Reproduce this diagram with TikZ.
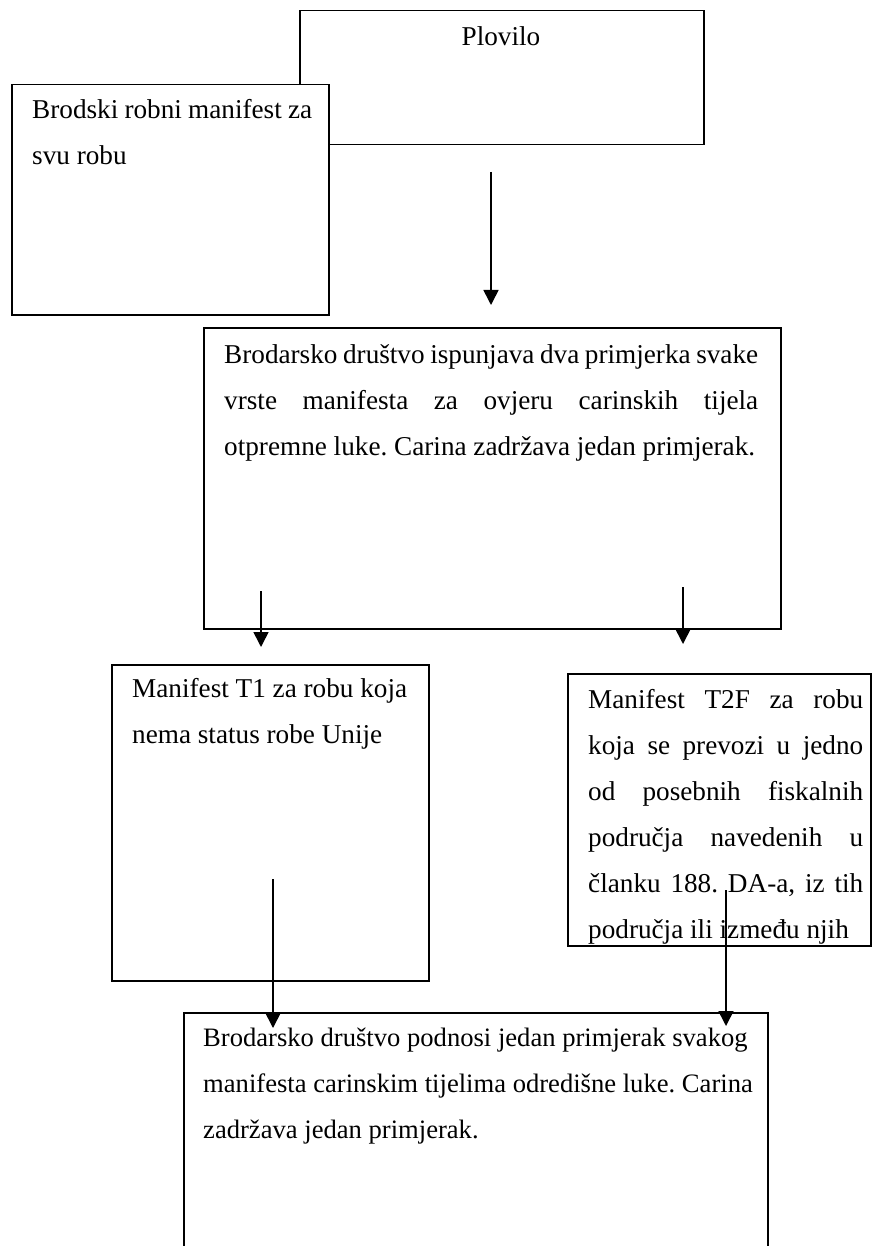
\documentclass[tikz,border=0pt]{standalone}
\usepackage{fontspec}
\setmainfont{Liberation Serif}
\usetikzlibrary{arrows.meta}
\frenchspacing
\tikzset{
  box/.style={draw=black, line width=1.5pt, fill=white, inner sep=0pt, anchor=north west},
  txt/.style={inner sep=0pt, anchor=base west, font=\fontsize{27.2}{46}\selectfont\frenchspacing},
  arr/.style={line width=1.6pt, -{Triangle[width=15pt,length=15pt]}}
}
\newcommand{\jl}[1]{\makebox[\linewidth][s]{#1}}
\begin{document}
\begin{tikzpicture}[x=1pt,y=-1pt]
\useasboundingbox (0,0) rectangle (872,1246);
\clip (0,0) rectangle (872,1246);
\fill[white] (0,0) rectangle (872,1246);

% boxes
\node[box, minimum width=404pt, minimum height=134pt] (plovilo) at (299,10) {};
\node[inner sep=0pt, anchor=base, font=\fontsize{27.2}{46}\selectfont] (plovilotxt) at (501,46) {Plovilo};

\node[box, minimum width=317pt, minimum height=230pt] (brodski) at (11,84) {};
\node[txt] (brodskitxt) at (32,119) {\parbox[t]{280pt}{Brodski robni manifest za\\svu robu}};

\node[box, minimum width=577pt, minimum height=301pt] (drustvo) at (203,327) {};
\node[txt] (drustvotxt) at (224,363) {\parbox[t]{534pt}{%
\jl{Brodarsko društvo ispunjava dva primjerka svake}\\
\jl{vrste manifesta za ovjeru carinskih tijela}\\
otpremne luke. Carina zadržava jedan primjerak.}};

\node[box, minimum width=317pt, minimum height=316pt] (tjedan) at (111,664) {};
\node[txt] (tjedantxt) at (132,697) {\parbox[t]{280pt}{%
Manifest T1 za robu koja\\
nema status robe Unije}};

\node[box, minimum width=303pt, minimum height=272pt] (tdva) at (567,673) {};
\node[txt] (tdvatxt) at (588,708) {\parbox[t]{275pt}{%
\jl{Manifest T2F za robu}\\
\jl{koja se prevozi u jedno}\\
\jl{od posebnih fiskalnih}\\
\jl{područja navedenih u}\\
\jl{članku 188. DA-a, iz tih}\\
područja ili između njih}};

\node[box, minimum width=584pt, minimum height=300pt] (odrediste) at (183,1012) {};
\node[txt, font=\fontsize{26.6}{46}\selectfont\frenchspacing] (odredistetxt) at (203,1046) {\parbox[t]{560pt}{%
Brodarsko društvo podnosi jedan primjerak svakog\\
manifesta carinskim tijelima odredišne luke. Carina\\
zadržava jedan primjerak.}};

% arrow end points
\coordinate (a1s) at (491,172);
\coordinate (a1e) at (491,305);
\coordinate (a2s) at (261,591);
\coordinate (a2e) at (261,647);
\coordinate (a3s) at (683,587);
\coordinate (a3e) at (683,644);
\coordinate (a4s) at (273,879);
\coordinate (a4e) at (273,1028);
\coordinate (a5s) at (726,890);
\coordinate (a5e) at (726,1026);

\draw[arr] (a1s) -- (a1e);
\draw[arr] (a2s) -- (a2e);
\draw[arr] (a3s) -- (a3e);
\draw[arr] (a4s) -- (a4e);
\draw[arr] (a5s) -- (a5e);
\end{tikzpicture}
\end{document}
